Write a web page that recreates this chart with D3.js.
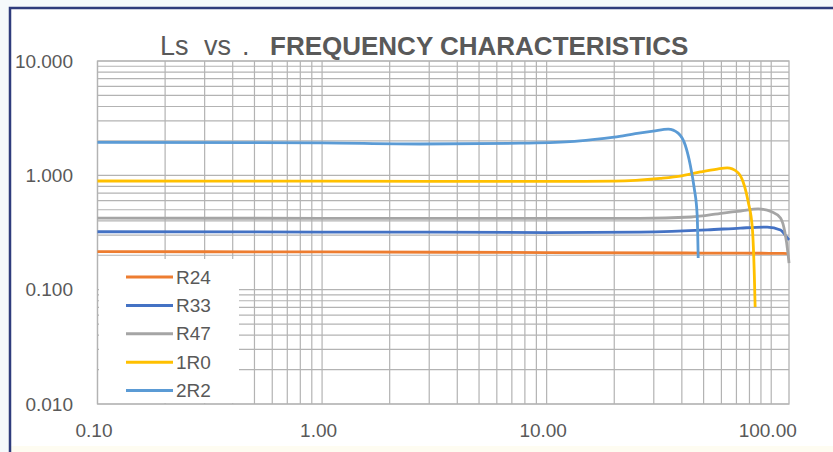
<!DOCTYPE html>
<html>
<head>
<meta charset="utf-8">
<script src="https://cdn.jsdelivr.net/npm/d3@7"></script>
<style>
    body { margin: 0; background: #ffffff; }
    svg { display: block; }
</style>
</head>
<body>
<div id="chart"></div>
<script>
// series data (frequency in MHz, Ls in uH)
const seriesNames = ["R24", "R33", "R47", "1R0", "2R2"];
const seriesColors = ["#ED7D31", "#4472C4", "#A5A5A5", "#FFC000", "#5B9BD5"];

const freqR24 = [0.1, 1, 10, 50, 100, 120];
const lsR24 = [0.215, 0.214, 0.211, 0.209, 0.208, 0.207];

const freqR33 = [0.1, 0.5, 1, 3, 10, 26, 52, 73, 96, 110, 118, 120];
const lsR33 = [0.321, 0.32, 0.319, 0.318, 0.316, 0.319, 0.333, 0.346, 0.353, 0.333, 0.283, 0.272];

const freqR47 = [0.1, 1, 10, 26, 44, 61, 73, 87.5, 101, 110, 115, 119, 120];
const lsR47 = [0.422, 0.421, 0.42, 0.42, 0.432, 0.468, 0.487, 0.508, 0.477, 0.423, 0.319, 0.201, 0.171];

const freq1R0 = [0.1, 1, 10, 20, 32, 40, 48.3, 57.5, 63.7, 70.6, 75, 79, 82.4, 84.1, 84.8];
const ls1R0 = [0.892, 0.89, 0.885, 0.89, 0.94, 0.99, 1.07, 1.135, 1.16, 1.07, 0.874, 0.584, 0.346, 0.134, 0.0705];

const freq2R2 = [0.1, 0.5, 1, 2.73, 7.62, 12.7, 16, 20, 25.3, 29.8, 34.8, 38.5, 41.4, 43.6, 45.4, 46.8, 47.3];
const ls2R2 = [1.94, 1.93, 1.92, 1.88, 1.91, 1.97, 2.05, 2.16, 2.33, 2.44, 2.54, 2.34, 1.84, 1.23, 0.774, 0.45, 0.189];

const xTickValues = [0.1, 1, 10, 100];
const xTickLabels = ["0.10", "1.00", "10.00", "100.00"];
const yTickValues = [0.01, 0.1, 1, 10];
const yTickLabels = ["0.010", "0.100", "1.000", "10.000"];
const xDomain = [0.1, 120];
const yDomain = [0.01, 10];

const chartTitle = "FREQUENCY CHARACTERISTICS";

const freqs = [freqR24, freqR33, freqR47, freq1R0, freq2R2];
const vals = [lsR24, lsR33, lsR47, ls1R0, ls2R2];
const series = seriesNames.map((name, i) => ({
    name: name,
    color: seriesColors[i],
    points: freqs[i].map((f, j) => ({ f: f, v: vals[i][j] }))
}));

const width = 833;
const height = 452;
const plot = { left: 97.5, right: 789, top: 61, bottom: 404 };
const textColor = "#595959";
const gridColor = "#b3b3b3";
const font = "'Liberation Sans', Arial, sans-serif";

const svg = d3.select("#chart")
    .append("svg")
    .attr("width", width)
    .attr("height", height)
    .attr("viewBox", [0, 0, width, height]);

// page background + frame
svg.append("rect").attr("width", width).attr("height", height).attr("fill", "#f5f9fb");
svg.append("rect").attr("x", 10).attr("y", 8).attr("width", width - 10).attr("height", height - 8).attr("fill", "#ffffff");
svg.append("rect").attr("x", 10).attr("y", 446).attr("width", width - 10).attr("height", 6).attr("fill", "#fefcf1");
svg.append("path")
    .attr("d", `M10,${height} V8 H${width}`)
    .attr("fill", "none")
    .attr("stroke", "#2f3c7c")
    .attr("stroke-width", 2.5);

const x = d3.scaleLog().domain(xDomain).range([plot.left, plot.right]);
const y = d3.scaleLog().domain(yDomain).range([plot.bottom, plot.top]);

// grid lines: 1..9 per decade
const gridX = [];
const gridY = [];
[0.1, 1, 10, 100].forEach(d => d3.range(1, 10).forEach(k => {
    const v = +(d * k).toPrecision(3);
    if (v <= xDomain[1]) gridX.push(v);
}));
[0.01, 0.1, 1].forEach(d => d3.range(1, 10).forEach(k => gridY.push(+(d * k).toPrecision(3))));
gridY.push(10);

const grid = svg.append("g").attr("stroke", gridColor).attr("stroke-width", 1.2);
grid.selectAll(".gx")
    .data(gridX)
    .join("line")
    .attr("class", "gx")
    .attr("x1", d => x(d)).attr("x2", d => x(d))
    .attr("y1", plot.top).attr("y2", plot.bottom);
grid.selectAll(".gy")
    .data(gridY)
    .join("line")
    .attr("class", "gy")
    .attr("x1", plot.left).attr("x2", plot.right)
    .attr("y1", d => y(d)).attr("y2", d => y(d));
svg.append("rect")
    .attr("x", plot.left).attr("y", plot.top)
    .attr("width", plot.right - plot.left).attr("height", plot.bottom - plot.top)
    .attr("fill", "none").attr("stroke", gridColor).attr("stroke-width", 1.3);

// legend box hides the grid behind it
const legendBox = { x: plot.left + 1.5, y: 259, w: 140, h: plot.bottom - 259 - 1 };
svg.append("rect")
    .attr("x", legendBox.x).attr("y", legendBox.y)
    .attr("width", legendBox.w).attr("height", legendBox.h)
    .attr("fill", "#ffffff");

// axes
const gx = svg.append("g")
    .attr("transform", `translate(0,${plot.bottom})`)
    .call(d3.axisBottom(x).tickValues(xTickValues).tickSize(0).tickPadding(19.5)
        .tickFormat((d, i) => xTickLabels[i]))
    .call(g => g.select(".domain").remove());
gx.selectAll("text")
    .attr("dx", -4)
    .attr("fill", textColor)
    .style("font", `19px ${font}`);

const gy = svg.append("g")
    .attr("transform", `translate(${plot.left},0)`)
    .call(d3.axisLeft(y).tickValues(yTickValues).tickSize(0).tickPadding(24.5)
        .tickFormat((d, i) => yTickLabels[i]))
    .call(g => g.select(".domain").remove());
gy.selectAll("text")
    .attr("fill", textColor)
    .style("font", `19px ${font}`);

// curves
const line = d3.line()
    .x(d => x(d.f))
    .y(d => y(d.v))
    .curve(d3.curveMonotoneX);

svg.append("g")
    .selectAll("path")
    .data(series)
    .join("path")
    .attr("d", d => line(d.points))
    .attr("fill", "none")
    .attr("stroke", d => d.color)
    .attr("stroke-width", 2.8)
    .attr("stroke-linejoin", "round");

// legend
const legend = svg.append("g")
    .selectAll("g")
    .data(series)
    .join("g")
    .attr("transform", (d, i) => `translate(126,${277 + i * 28.4})`);
legend.append("line")
    .attr("x1", 0).attr("x2", 47)
    .attr("stroke", d => d.color)
    .attr("stroke-width", 3);
legend.append("text")
    .attr("x", 50)
    .attr("dy", "0.35em")
    .attr("fill", textColor)
    .style("font", `19px ${font}`)
    .text(d => d.name);

// title
const title = svg.append("text")
    .attr("y", 55)
    .attr("fill", textColor)
    .style("font-family", font);
title.append("tspan").attr("x", 160).style("font-size", "27px").text("Ls");
title.append("tspan").attr("x", 204).style("font-size", "27px").text("vs");
title.append("tspan").attr("x", 242).style("font-size", "27px").text(".");
title.append("tspan").attr("x", 270).style("font-size", "26px").style("font-weight", "bold").text(chartTitle);
</script>
</body>
</html>
